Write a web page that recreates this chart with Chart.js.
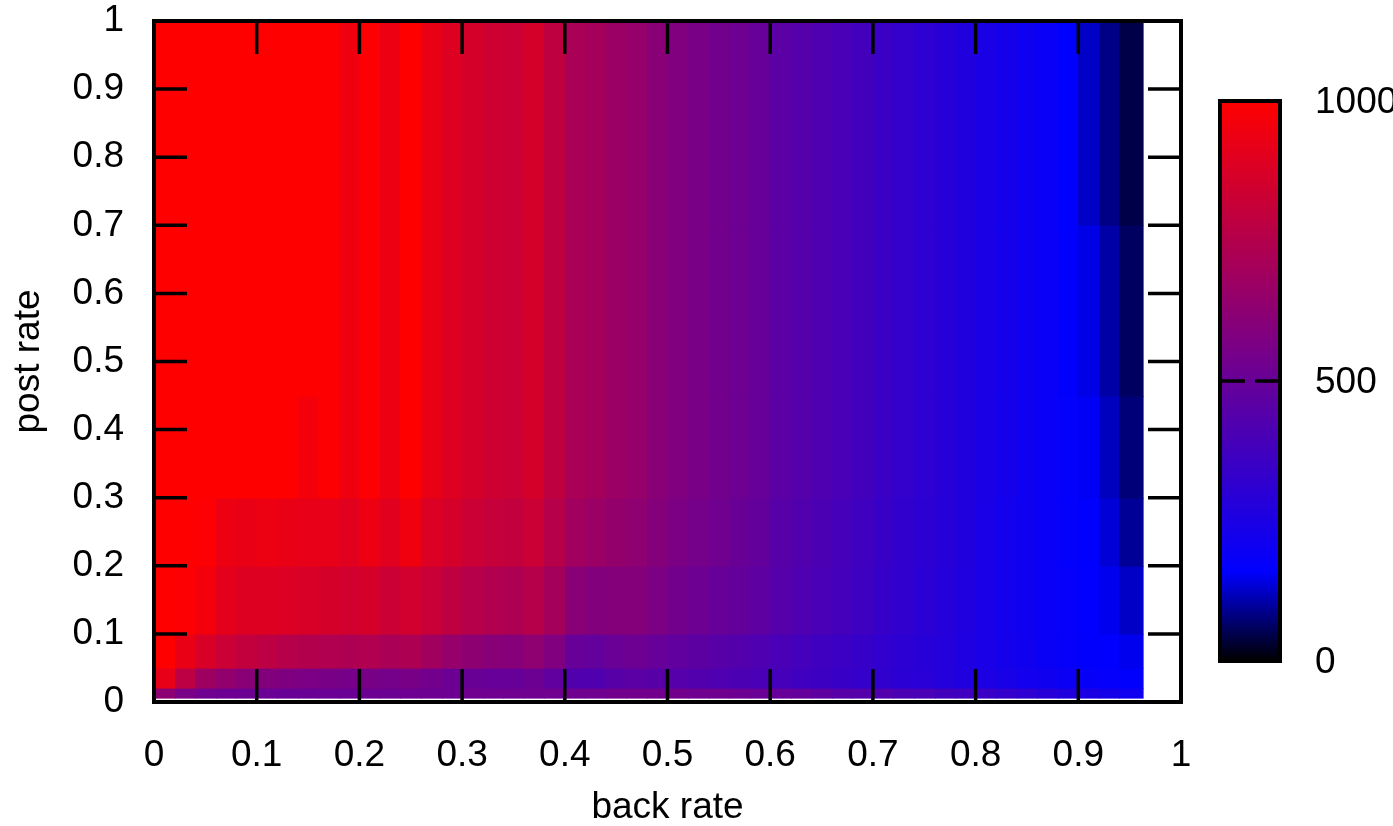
<!DOCTYPE html>
<html>
<head>
<meta charset="utf-8">
<script src="https://cdn.jsdelivr.net/npm/chart.js@4.4.1/dist/chart.umd.min.js"></script>
<style>
  body { margin: 0; background: #fff; }
  #wrap { width: 1393px; height: 826px; position: relative; }
</style>
</head>
<body>
<div id="wrap"><canvas id="myChart"></canvas></div>
<script>
// cell edges along back rate (x) and post rate (y)
const backEdges = [0, 0.02, 0.04, 0.06, 0.08, 0.10, 0.12, 0.14, 0.16, 0.18,
    0.20, 0.22, 0.24, 0.26, 0.28, 0.30, 0.32, 0.34, 0.36, 0.38,
    0.40, 0.42, 0.44, 0.46, 0.48, 0.50, 0.52, 0.54, 0.56, 0.58,
    0.60, 0.62, 0.64, 0.66, 0.68, 0.70, 0.72, 0.74, 0.76, 0.78,
    0.80, 0.82, 0.84, 0.86, 0.88, 0.90, 0.92, 0.94, 0.963];
const postEdges = [0.006, 0.02, 0.05, 0.1, 0.2, 0.3, 0.45, 0.7, 1.0];

// values per post-rate band (bottom to top), one value per back-rate column
const band1 = [620, 560, 530, 520, 515, 510, 505, 505, 510, 510, 515, 515, 520, 520, 520, 525, 525, 525, 530, 530,
    525, 530, 535, 540, 540, 535, 530, 525, 520, 510, 500, 490, 470, 450, 440, 430, 410, 400, 380, 370,
    350, 330, 310, 290, 270, 250, 230, 210];
const band2 = [920, 780, 680, 640, 610, 590, 575, 565, 555, 550, 555, 545, 555, 535, 515, 505, 495, 495, 515, 480,
    430, 425, 445, 460, 450, 440, 430, 420, 410, 400, 385, 370, 358, 345, 333, 318, 303, 292, 280, 266,
    252, 238, 223, 208, 195, 182, 172, 165];
const band3 = [1000, 930, 870, 830, 800, 780, 760, 750, 740, 730, 740, 720, 730, 690, 650, 625, 605, 600, 630, 580,
    500, 490, 510, 520, 500, 480, 465, 450, 435, 420, 400, 385, 370, 355, 340, 322, 304, 290, 277, 260,
    242, 225, 208, 190, 178, 168, 162, 150];
const band4 = [1000, 990, 960, 910, 890, 890, 880, 870, 860, 850, 860, 830, 850, 820, 790, 760, 740, 730, 760, 700,
    610, 590, 595, 595, 570, 540, 520, 500, 485, 470, 440, 420, 400, 385, 365, 340, 320, 302, 285, 265,
    242, 223, 205, 185, 172, 163, 150, 125];
const band5 = [1000, 1000, 990, 940, 930, 940, 930, 920, 920, 900, 940, 900, 950, 880, 860, 830, 810, 800, 830, 760,
    690, 670, 645, 630, 595, 565, 545, 525, 505, 485, 450, 430, 410, 392, 372, 345, 325, 305, 288, 268,
    243, 223, 205, 185, 170, 160, 135, 95];
const band6 = [1000, 1000, 1000, 1000, 1000, 1000, 1000, 965, 995, 950, 990, 940, 1000, 930, 890, 860, 840, 830, 860, 790,
    720, 700, 670, 650, 610, 580, 560, 540, 520, 500, 460, 440, 420, 400, 380, 350, 330, 310, 290, 270,
    245, 225, 205, 185, 170, 155, 120, 75];
const band7 = [1000, 1000, 1000, 1000, 1000, 1000, 1000, 1000, 995, 950, 990, 940, 1000, 930, 890, 860, 840, 830, 860, 790,
    720, 700, 670, 650, 610, 580, 560, 540, 520, 500, 460, 440, 420, 400, 380, 350, 330, 310, 290, 270,
    245, 225, 205, 185, 165, 145, 105, 60];
const band8 = [1000, 1000, 1000, 1000, 1000, 1000, 1000, 1000, 995, 950, 990, 940, 1000, 930, 890, 860, 840, 830, 860, 790,
    720, 700, 670, 650, 610, 580, 560, 540, 520, 500, 460, 440, 420, 400, 380, 350, 330, 310, 290, 270,
    245, 225, 205, 185, 160, 125, 85, 45];
const bands = [band1, band2, band3, band4, band5, band6, band7, band8];

const cbTicks = [0, 500, 1000];
const cbMin = 0;
const cbMax = 1000;

const FONT = '"Liberation Sans", Arial, Helvetica, sans-serif';

// black -> blue -> red
function palette(v) {
    const knee = 160;
    let r, g = 0, b;
    if (v <= knee) {
        r = 0;
        b = 255 * Math.max(0, v) / knee;
    } else {
        const t = Math.min(1, (v - knee) / (cbMax - knee));
        r = 255 * t;
        b = 255 * (1 - t);
    }
    return 'rgb(' + Math.round(r) + ',' + g + ',' + Math.round(b) + ')';
}

// build cell list from the arrays
const cells = [];
for (let j = 0; j < bands.length; j++) {
    for (let i = 0; i < backEdges.length - 1; i++) {
        cells.push({
            x0: backEdges[i], x1: backEdges[i + 1],
            y0: postEdges[j], y1: postEdges[j + 1],
            v: bands[j][i]
        });
    }
}

const heatmapPlugin = {
    id: 'heatmap',
    beforeDatasetsDraw(chart) {
        const ctx = chart.ctx;
        const xs = chart.scales.x;
        const ys = chart.scales.y;
        ctx.save();
        for (const c of cells) {
            const left = Math.round(xs.getPixelForValue(c.x0));
            const right = Math.round(xs.getPixelForValue(c.x1));
            const top = Math.round(ys.getPixelForValue(c.y1));
            const bottom = Math.round(ys.getPixelForValue(c.y0));
            ctx.fillStyle = palette(c.v);
            ctx.fillRect(left, top, right - left + 0.6, bottom - top + 0.6);
        }
        ctx.restore();
    }
};

const framePlugin = {
    id: 'frame',
    afterDraw(chart) {
        const ctx = chart.ctx;
        const a = chart.chartArea;
        const xs = chart.scales.x;
        const ys = chart.scales.y;
        const tick = 33;
        ctx.save();
        ctx.strokeStyle = '#000';
        ctx.lineWidth = 3.5;
        ctx.beginPath();
        for (const t of xs.ticks) {
            const px = xs.getPixelForValue(t.value);
            ctx.moveTo(px, a.bottom); ctx.lineTo(px, a.bottom - tick);
            ctx.moveTo(px, a.top); ctx.lineTo(px, a.top + tick);
        }
        for (const t of ys.ticks) {
            const py = ys.getPixelForValue(t.value);
            ctx.moveTo(a.left, py); ctx.lineTo(a.left + tick, py);
            ctx.moveTo(a.right, py); ctx.lineTo(a.right - tick, py);
        }
        ctx.stroke();
        ctx.lineWidth = 4;
        ctx.strokeRect(a.left, a.top, a.right - a.left, a.bottom - a.top);

        // colour box
        const cbLeft = 1220, cbRight = 1280, cbTop = 101, cbBottom = 661;
        const toPx = v => cbBottom - (v - cbMin) / (cbMax - cbMin) * (cbBottom - cbTop);
        for (let y = cbTop; y < cbBottom; y++) {
            const v = cbMin + (cbBottom - y - 0.5) / (cbBottom - cbTop) * (cbMax - cbMin);
            ctx.fillStyle = palette(v);
            ctx.fillRect(cbLeft, y, cbRight - cbLeft, 1);
        }
        ctx.lineWidth = 3.5;
        ctx.beginPath();
        for (const v of cbTicks) {
            if (v === cbMin || v === cbMax) continue;
            const py = toPx(v);
            ctx.moveTo(cbLeft, py); ctx.lineTo(cbLeft + 25, py);
            ctx.moveTo(cbRight, py); ctx.lineTo(cbRight - 25, py);
        }
        ctx.stroke();
        ctx.lineWidth = 4;
        ctx.strokeRect(cbLeft, cbTop, cbRight - cbLeft, cbBottom - cbTop);

        ctx.fillStyle = '#000';
        ctx.font = '37px ' + FONT;
        ctx.textAlign = 'left';
        ctx.textBaseline = 'middle';
        for (const v of cbTicks) {
            ctx.fillText(String(v), 1315, toPx(v) + 2);
        }
        ctx.restore();
    }
};

const fmt = v => String(Math.round(v * 10) / 10);

const ctx = document.getElementById('myChart').getContext('2d');
const myChart = new Chart(ctx, {
    type: 'scatter',
    data: {
        datasets: [{
            data: cells.map(c => ({ x: (c.x0 + c.x1) / 2, y: (c.y0 + c.y1) / 2 })),
            pointRadius: 0,
            showLine: false
        }]
    },
    options: {
        responsive: true,
        maintainAspectRatio: false,
        animation: false,
        layout: { padding: { left: 0, right: 212, top: 21, bottom: 0 } },
        plugins: {
            legend: { display: false },
            tooltip: { enabled: false }
        },
        scales: {
            x: {
                type: 'linear', min: 0, max: 1,
                afterFit(scale) {
                    scale.height = 124;
                    scale.paddingLeft = 0;
                    scale.paddingRight = 0;
                },
                grid: { display: false, drawTicks: false },
                border: { display: false },
                ticks: {
                    stepSize: 0.1, maxRotation: 0, autoSkip: false,
                    color: '#000', padding: 32,
                    font: { family: FONT, size: 37 },
                    callback: fmt
                },
                title: {
                    display: true, text: 'back rate', color: '#000',
                    font: { family: FONT, size: 37, lineHeight: 1 },
                    padding: { top: 0, bottom: 0 }
                }
            },
            y: {
                type: 'linear', min: 0, max: 1,
                afterFit(scale) {
                    scale.width = 154;
                    scale.paddingTop = 0;
                    scale.paddingBottom = 0;
                },
                grid: { display: false, drawTicks: false },
                border: { display: false },
                ticks: {
                    stepSize: 0.1, autoSkip: false,
                    color: '#000', padding: 30,
                    font: { family: FONT, size: 37 },
                    callback: fmt
                },
                title: {
                    display: true, text: 'post rate', color: '#000',
                    font: { family: FONT, size: 37, lineHeight: 1 },
                    padding: { top: 10, bottom: 0 }
                }
            }
        }
    },
    plugins: [heatmapPlugin, framePlugin]
});
</script>
</body>
</html>
